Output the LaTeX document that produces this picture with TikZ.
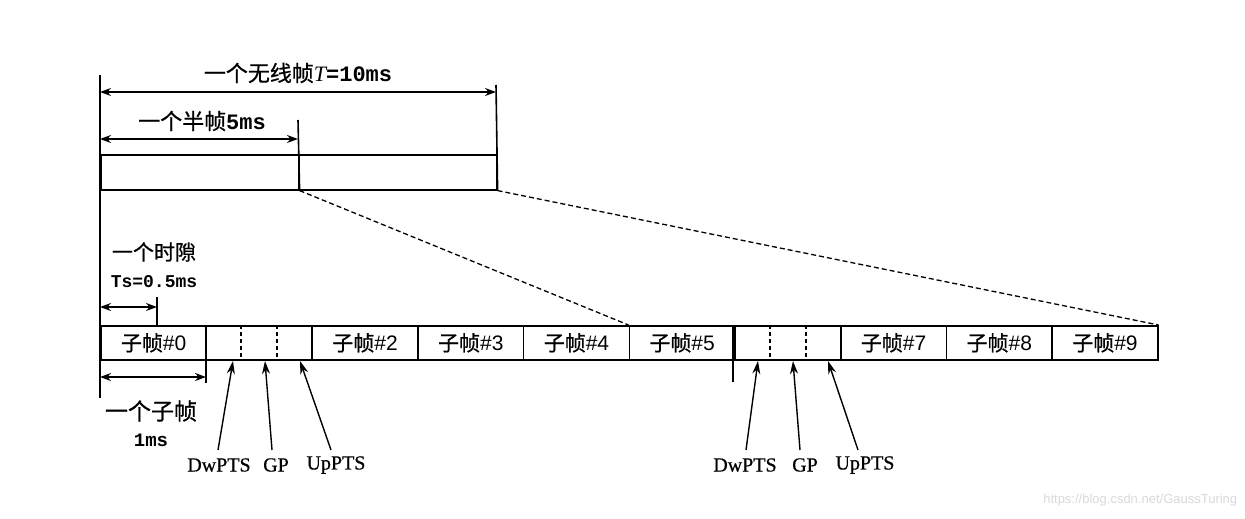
\documentclass[tikz,border=0pt]{standalone}
\usepackage{fontspec}
\setmainfont{Liberation Serif}
\setsansfont{Liberation Sans}
\newfontfamily\cjk[FakeBold=0.8]{Noto Sans CJK SC}
\newfontfamily\mono{Liberation Mono}
\newfontfamily\lbl[FakeBold=0.6]{Liberation Serif}
\usetikzlibrary{arrows.meta}
\begin{document}
\begin{tikzpicture}[x=1pt,y=-1pt,line width=1.6pt,
  sub/.style={draw, minimum width=105.7pt, minimum height=34pt, inner sep=0pt, anchor=north west,
    font=\cjk\fontsize{21}{21}\selectfont},
  half/.style={draw, minimum width=198pt, minimum height=35pt, inner sep=0pt, anchor=north west},
  dim/.style={{Stealth[length=11pt,width=8pt]}-{Stealth[length=11pt,width=8pt]}, line width=1.4pt},
  ptr/.style={-{Stealth[length=13pt,width=8pt]}, line width=1.4pt},
  lab/.style={font=\cjk\fontsize{22}{22}\selectfont, inner sep=0pt},
  plab/.style={font=\lbl\fontsize{20}{20}\selectfont, inner sep=0pt},
  sep/.style={dashed, line width=1.3pt, dash pattern=on 4pt off 3pt}]
\useasboundingbox (0,0) rectangle (1245,519);

% top frame
\node[half] (h1) at (100,154) {};
\node[half] (h2) at (298,154) {};

% subframes
\foreach \i/\t in {0/子帧{\sffamily\#0},1/,2/子帧{\sffamily\#2},3/子帧{\sffamily\#3},4/子帧{\sffamily\#4},5/子帧{\sffamily\#5},6/,7/子帧{\sffamily\#7},8/子帧{\sffamily\#8},9/子帧{\sffamily\#9}}{
  \node[sub] (s\i) at ({100+105.7*\i},325) {\t};
}

% dashed separators inside special subframes
\draw[sep] (241,325) -- (241,359);
\draw[sep] (277,325) -- (277,359);
\draw[sep] (770,325) -- (770,359);
\draw[sep] (806,325) -- (806,359);

% extension lines
\coordinate (L0) at (100,75);
\coordinate (L1) at (100,398);
\draw (L0) -- (L1);
\coordinate (R0) at (496,85);
\draw (R0) -- (h2.south east);
\coordinate (M0) at (298,120);
\draw (M0) -- (h1.south east);
\coordinate (T0) at (157,297);
\coordinate (T1) at (157,325);
\draw (T0) -- (T1);
\coordinate (U0) at (206,325);
\coordinate (U1) at (206,383);
\draw (U0) -- (U1);
\coordinate (V0) at (733,325);
\coordinate (V1) at (733,382);
\draw (V0) -- (V1);

% dimension arrows
\coordinate (a1) at (100,92); \coordinate (a2) at (496,92);
\draw[dim] (a1) -- (a2);
\coordinate (b1) at (100,139); \coordinate (b2) at (298,139);
\draw[dim] (b1) -- (b2);
\coordinate (c1) at (100,307); \coordinate (c2) at (157,307);
\draw[dim] (c1) -- (c2);
\coordinate (d1) at (100,377); \coordinate (d2) at (206,377);
\draw[dim] (d1) -- (d2);

% zoom lines
\draw[dashed, line width=1.3pt, dash pattern=on 5pt off 3pt] (h1.south east) -- (s5.north west);
\draw[dashed, line width=1.3pt, dash pattern=on 5pt off 3pt] (h2.south east) -- (s9.north east);

% labels
\node[lab] (t1) at (298,73) {一个无线帧{\rmfamily\itshape T}{\mono\bfseries=10ms}};
\node[lab] (t2) at (202,121) {一个半帧{\mono\bfseries 5ms}};
\node[lab,font=\cjk\fontsize{21}{21}\selectfont] (t3) at (154,252) {一个时隙};
\node[lab,font=\mono\bfseries\fontsize{18}{18}\selectfont] (t4) at (154,282) {Ts=0.5ms};
\node[lab,font=\cjk\fontsize{23}{23}\selectfont] (t5) at (151,411) {一个子帧};
\node[lab,font=\mono\bfseries\fontsize{19}{19}\selectfont] (t6) at (151,440) {1ms};

% pointer labels
\node[plab] (dw1) at (219,465) {DwPTS};
\node[plab] (gp1) at (276,465) {GP};
\node[plab] (up1) at (336,465) {UpPTS};
\node[plab] (dw2) at (745,465) {DwPTS};
\node[plab] (gp2) at (805,465) {GP};
\node[plab] (up2) at (865,465) {UpPTS};

\coordinate (p1) at (233,361); \coordinate (q1) at (218,450);
\coordinate (p2) at (265,361); \coordinate (q2) at (272,450);
\coordinate (p3) at (300,361); \coordinate (q3) at (331,450);
\coordinate (p4) at (758,361); \coordinate (q4) at (746,450);
\coordinate (p5) at (793,361); \coordinate (q5) at (800,450);
\coordinate (p6) at (828,361); \coordinate (q6) at (858,450);
\foreach \k in {1,...,6}{\draw[ptr] (q\k) -- (p\k);}

% watermark
\node[font=\sffamily\fontsize{13}{13}\selectfont, text=black!15, anchor=east, inner sep=0pt] (wm) at (1238,500) {https://blog.csdn.net/GaussTuring};
\end{tikzpicture}
\end{document}
